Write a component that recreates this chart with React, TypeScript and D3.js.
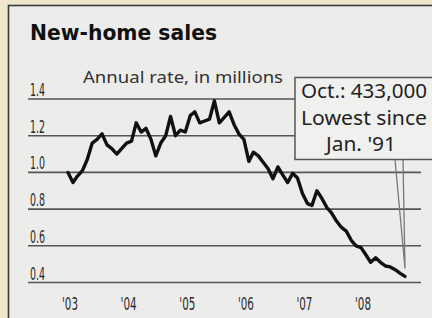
import React from "react";
import * as d3 from "d3";

const W = 432;
const H = 318;

const startYear = 2003;
const startMonth = 0;
const sales = [
  1.0, 0.945, 0.98, 1.01, 1.07, 1.16, 1.18, 1.21, 1.15, 1.13, 1.1, 1.13,
  1.16, 1.17, 1.27, 1.22, 1.24, 1.18, 1.09, 1.16, 1.2, 1.305, 1.2, 1.23,
  1.22, 1.31, 1.33, 1.27, 1.28, 1.29, 1.39, 1.27, 1.3, 1.33, 1.26, 1.21,
  1.18, 1.06, 1.11, 1.09, 1.055, 1.02, 0.965, 1.03, 0.985, 0.945, 0.995, 0.97,
  0.885, 0.83, 0.82, 0.9, 0.86, 0.81, 0.78, 0.735, 0.7, 0.68, 0.63, 0.6,
  0.59, 0.55, 0.51, 0.535, 0.51, 0.49, 0.485, 0.47, 0.45, 0.433,
];
const yTicks = [0.4, 0.6, 0.8, 1.0, 1.2, 1.4];
const yearTicks = [2003, 2004, 2005, 2006, 2007, 2008];
const yearLabels = ["'03", "'04", "'05", "'06", "'07", "'08"];
const title = "New-home sales";
const subtitle = "Annual rate, in millions";
const noteLines = ["Oct.: 433,000", "Lowest since", "Jan. '91"];

export default function App() {
  const data = sales.map((v, i) => ({ date: new Date(startYear, startMonth + i, 1), v }));
  const x = d3
    .scaleTime()
    .domain([data[0].date, data[data.length - 1].date])
    .range([68, 405]);
  const y = d3.scaleLinear().domain([0.4, 1.4]).range([282.5, 99]);
  const line = d3
    .line<{ date: Date; v: number }>()
    .x((d) => x(d.date))
    .y((d) => y(d.v))
    .curve(d3.curveLinear);

  const last = data[data.length - 1];
  const tipX = x(last.date);
  const tipY = y(last.v) - 8;
  const boxX = 295;
  const boxY = 77.5;
  const boxW = 145;
  const boxH = 82;

  const condensed = "'DejaVu Sans Condensed', 'DejaVu Sans', sans-serif";

  return (
    <svg
      width={W}
      height={H}
      style={{ position: "fixed", left: 0, top: 0, display: "block" }}
      xmlns="http://www.w3.org/2000/svg"
    >
      <rect x={0} y={0} width={W} height={H} fill="#efe6cc" />
      <rect x={8.5} y={5.5} width={W} height={H} fill="#ececea" stroke="#3a3a3a" strokeWidth={1.6} />
      <text x={30} y={40} fontFamily="'DejaVu Sans', sans-serif" fontWeight="bold" fontSize={20.5} fill="#111" textLength={187} lengthAdjust="spacingAndGlyphs">
        {title}
      </text>
      <text x={83} y={83} fontFamily="'Noto Sans', 'DejaVu Sans', sans-serif" fontSize={15.5} fill="#333" textLength={200} lengthAdjust="spacingAndGlyphs">
        {subtitle}
      </text>
      {yTicks.map((t) => (
        <g key={t}>
          <line x1={28} x2={421} y1={y(t)} y2={y(t)} stroke="#555" strokeWidth={1.6} />
          <text x={30} y={y(t) - 3} fontFamily={condensed} fontSize={18} fill="#2a2a2a" textLength={15} lengthAdjust="spacingAndGlyphs">
            {t.toFixed(1)}
          </text>
        </g>
      ))}
      {yearTicks.map((yr, i) => (
        <text
          key={yr}
          x={x(new Date(yr, 0, 1)) + 2}
          y={310}
          textAnchor="middle"
          fontFamily={condensed}
          fontSize={18}
          fill="#2a2a2a"
          textLength={16}
          lengthAdjust="spacingAndGlyphs"
        >
          {yearLabels[i]}
        </text>
      ))}
      <path d={line(data) || ""} fill="none" stroke="#111" strokeWidth={3.4} strokeLinejoin="round" strokeLinecap="round" />
      <rect x={boxX} y={boxY} width={boxW} height={boxH} fill="#f0f0ee" stroke="#555" strokeWidth={1.5} />
      <polyline
        points={`${tipX - 10},${boxY + boxH} ${tipX},${tipY} ${tipX - 2},${boxY + boxH}`}
        fill="none"
        stroke="#777"
        strokeWidth={1.3}
      />
      {noteLines.map((s, i) => (
        <text
          key={s}
          x={i === 2 ? 361 : 364}
          y={98 + i * 26.5}
          textAnchor="middle"
          fontFamily="'Noto Sans', 'DejaVu Sans', sans-serif"
          fontSize={19.5}
          fill="#222"
          textLength={i === 2 ? 70 : 126}
          lengthAdjust="spacingAndGlyphs"
        >
          {s}
        </text>
      ))}
    </svg>
  );
}
